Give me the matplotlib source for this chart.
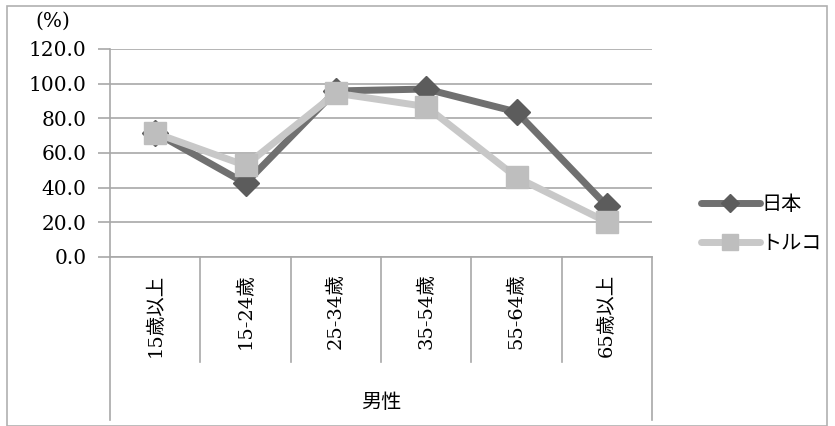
import matplotlib
matplotlib.use("Agg")
import matplotlib.pyplot as plt
from matplotlib.patches import Rectangle

# data
categories = ["15歳以上", "15-24歳", "25-34歳", "35-54歳", "55-64歳", "65歳以上"]
group_label = "男性"
japan = [71.8, 42.5, 95.8, 96.9, 83.7, 29.5]
turkey = [71.5, 52.8, 94.5, 86.8, 46.0, 20.2]
series_names = ["日本", "トルコ"]
yticks = [0, 20, 40, 60, 80, 100, 120]

fam = ["DejaVu Serif", "Noto Sans CJK JP"]
plt.rcParams["font.family"] = fam

W, H = 835, 426
fig = plt.figure(figsize=(W / 100, H / 100), dpi=100)

# outer chart border
fig.patches.append(Rectangle((7 / W, 0), (827 - 7) / W, (H - 6) / H,
                             transform=fig.transFigure, fill=False,
                             ec="#b0b0b0", lw=1.2))

left, right, top, bottom = 110, 652, 49, 257
ax = fig.add_axes([left / W, 1 - bottom / H, (right - left) / W, (bottom - top) / H])

x = list(range(len(categories)))
ax.plot(x, japan, color="#707070", lw=5, marker="D", ms=13,
        mfc="#5c5c5c", mec="#5c5c5c", solid_capstyle="round", zorder=3,
        label=series_names[0])
ax.plot(x, turkey, color="#c8c8c8", lw=5, marker="s", ms=16,
        mfc="#bebebe", mec="#bebebe", solid_capstyle="round", zorder=4,
        label=series_names[1])

ax.set_xlim(-0.5, len(categories) - 0.5)
ax.set_ylim(0, 120)
ax.set_yticks(yticks)
ax.set_yticklabels([f"{v:.1f}" for v in yticks], fontsize=14.5)
ax.yaxis.grid(True, color="#a8a8a8", lw=1.2)
ax.set_axisbelow(True)
for s in ["top", "right"]:
    ax.spines[s].set_visible(False)
for s in ["left", "bottom"]:
    ax.spines[s].set_color("#a8a8a8")
    ax.spines[s].set_linewidth(1.2)
ax.tick_params(axis="y", length=9, color="#a8a8a8", width=1.2, pad=8)

ax.set_xticks(x)
ax.set_xticklabels(categories, rotation=90, va="top", ha="center", fontsize=14)
ax.tick_params(axis="x", length=0, pad=12)

# category dividers and group label under the axis
tr = ax.get_xaxis_transform()
ph = bottom - top
for i in range(len(categories) + 1):
    xe = i - 0.5
    depth = (420 - bottom) / ph if i in (0, len(categories)) else (362 - bottom) / ph
    ax.plot([xe, xe], [0, -depth], transform=tr, color="#a8a8a8", lw=1.2, clip_on=False)
ax.text((len(categories) - 1) / 2, -(403 - bottom) / ph, group_label, transform=tr,
        ha="center", va="center", fontsize=14.5)

fig.text(53 / W, 1 - 21 / H, "(%)", ha="center", va="center", fontsize=14.5)

fig.legend(loc="center left", bbox_to_anchor=(683 / W, 1 - 224 / H), frameon=False,
           fontsize=14.5, handlelength=2.9, labelspacing=0.95, handletextpad=0.1,
           markerscale=0.7)

fig.savefig("out.png", dpi=100)
